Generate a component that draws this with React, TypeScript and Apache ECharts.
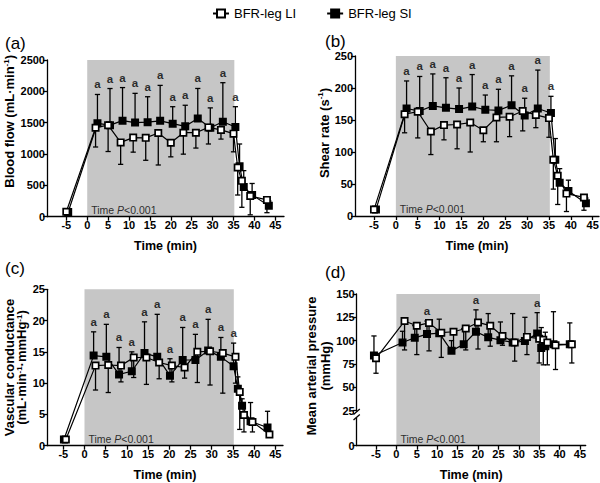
import React, { useEffect, useRef } from 'react';
import * as echarts from 'echarts';

const FONT = "'Liberation Sans', Arial, Helvetica, sans-serif";

// Time points (min) of the measurements
const times = [-5, 2, 5, 8, 11, 14, 17, 20, 23, 26, 29, 32, 35, 36, 37, 39, 43];
const xTicks = [-5, 0, 5, 10, 15, 20, 25, 30, 35, 40, 45];
const shadeRange = [0, 35.2];
const sigTimesABC = [2, 5, 8, 11, 14, 17, 20, 23, 26, 29, 32, 35];
const sigTimesD = [8, 20, 35];

// (a) Blood flow (mL·min-1)
const bfLI = [80, 1420, 1460, 1185, 1262, 1258, 1335, 1180, 1340, 1340, 1425, 1385, 1325, 785, 572, 330, 268];
const bfLILow = [80, 1112, 1040, 835, 1030, 900, 825, 955, 998, 1095, 1160, 1238, 1035, 346, 150, 30, 64];
const bfSI = [75, 1490, 1460, 1532, 1502, 1508, 1530, 1484, 1442, 1568, 1418, 1515, 1430, 805, 475, 348, 175];
const bfSIHigh = [75, 1950, 2045, 2060, 1968, 1914, 2095, 1755, 1778, 2046, 1736, 2138, 1755, 1160, 735, 530, 250];

// (b) Shear rate (s-1)
const srLI = [10, 159, 163, 132, 142, 143, 146, 134, 154, 155, 164, 158, 153, 88, 63, 35, 29];
const srLILow = [10, 130, 122, 96, 119, 105, 100, 116, 116, 124, 133, 138, 123, 42, 18, 7, 9];
const srSI = [10, 168, 164, 172, 169, 167, 171, 166, 165, 173, 157, 168, 161, 88, 52, 39, 20];
const srSIHigh = [10, 211, 218, 222, 216, 200, 221, 189, 198, 219, 184, 228, 187, 121, 74, 56, 28];

// (c) Vascular conductance (mL·min-1·mmHg-1)
const vcLI = [1.0, 12.8, 12.9, 12.8, 14.1, 14.1, 13.3, 12.8, 12.5, 15.0, 15.1, 14.8, 14.2, 8.6, 4.9, 3.8, 1.8];
const vcLILow = [1.0, 8.9, 8.5, 10.2, 10.9, 9.8, 10.7, 10.2, 10.8, 10.1, 9.7, 8.4, 10.0, 2.6, 2.2, 2.2, 1.8];
const vcSI = [1.0, 14.4, 14.2, 11.4, 11.9, 14.8, 14.2, 11.2, 13.7, 13.7, 15.2, 14.2, 12.7, 9.1, 6.4, 3.9, 2.9];
const vcSIHigh = [1.0, 18.2, 19.4, 15.7, 15.0, 19.8, 21.0, 13.9, 18.9, 17.8, 20.2, 17.3, 16.4, 11.0, 7.5, 6.9, 5.5];

// (d) Mean arterial pressure (mmHg)
const mapLI = [81, 121, 116, 119, 108.5, 109.5, 113, 119.5, 116, 105, 98, 104, 102, 101, 98, 95, 96];
const mapLILow = [65, 90, 85, 89, 82, 92, 90, 91, 94, 95, 78, 85, 76, 74, 74, 69, 76];
const mapSI = [84, 98, 103, 107, 108, 89, 96, 109.5, 103.5, 100.5, 98, 99.5, 107.5, 92, 94, 96, 96];
const mapSIHigh = [105, 110, 116, 121, 123, 100, 113, 133, 129, 120, 129, 125, 130, 114, 109, 131, 119];
const mapTicks = [25, 50, 75, 100, 125, 150];

// small horizontal offsets of each group (as plotted in the figure)
const jitterA = [0, 0.45];
const jitterB = [0, 0.45];
const jitterC = [0.6, 0.15];
const jitterD = [0, -0.5];

const AX_COLOR = '#000';

function errSeries(name: string, data: number[][], ax: number) {
  return {
    type: 'custom',
    name,
    xAxisIndex: ax,
    yAxisIndex: ax,
    z: 2,
    silent: true,
    encode: { x: 0, y: [1, 2] },
    data,
    renderItem: (params: any, api: any) => {
      const x = api.value(0);
      const a = api.coord([x, api.value(1)]);
      const b = api.coord([x, api.value(2)]);
      if (Math.abs(a[1] - b[1]) < 0.5) return { type: 'group', children: [] };
      const st = { stroke: '#000', lineWidth: 1.3 };
      return {
        type: 'group',
        children: [
          { type: 'line', shape: { x1: a[0], y1: a[1], x2: b[0], y2: b[1] }, style: st },
          { type: 'line', shape: { x1: b[0] - 2.6, y1: b[1], x2: b[0] + 2.6, y2: b[1] }, style: st },
        ],
      };
    },
  };
}

function lineSeries(name: string, data: number[][], ax: number, fill: string, z: number) {
  return {
    type: 'line',
    name,
    xAxisIndex: ax,
    yAxisIndex: ax,
    z,
    data,
    symbol: 'rect',
    symbolSize: 6.3,
    showSymbol: true,
    showAllSymbol: true,
    itemStyle: { color: fill, borderColor: '#000', borderWidth: 1.7 },
    lineStyle: { color: '#000', width: 1.2 },
    emphasis: { disabled: true },
  };
}

function shadeSeries(ax: number, y0: number, y1: number) {
  return {
    type: 'line',
    name: 'shade' + ax,
    xAxisIndex: ax,
    yAxisIndex: ax,
    z: 0,
    data: [],
    silent: true,
    markArea: {
      silent: true,
      z: 0,
      itemStyle: { color: '#c6c6c6', opacity: 1 },
      label: { show: false },
      data: [[{ xAxis: shadeRange[0], yAxis: y0 }, { xAxis: shadeRange[1], yAxis: y1 }]],
    },
  };
}

// "Time P<0.001" note anchored at the start of the shaded period
function pSeries(ax: number, y0: number) {
  return {
    type: 'scatter',
    name: 'p' + ax,
    xAxisIndex: ax,
    yAxisIndex: ax,
    z: 6,
    silent: true,
    symbolSize: 0,
    data: [[shadeRange[0], y0]],
    label: {
      show: true,
      position: [4, -12.5],
      formatter: '{n|Time }{i|P}{n|<0.001}',
      color: '#000',
      rich: {
        n: { fontSize: 10.5, color: '#000', fontFamily: FONT },
        i: { fontSize: 10.5, color: '#000', fontStyle: 'italic', fontFamily: FONT },
      },
    },
  };
}

function dataSeries(li: number[], liLow: number[], si: number[], siHigh: number[], jit: number[], sig: number[], ax: number) {
  const [jL, jS] = jit;
  const liPts = times.map((t, i) => [t + jL, li[i]]);
  const siPts = times.map((t, i) => [t + jS, si[i]]);
  const liErr = times.map((t, i) => [t + jL, li[i], liLow[i]]);
  const siErr = times.map((t, i) => [t + jS, si[i], siHigh[i]]);
  const sigPts = sig.map((t) => {
    const i = times.indexOf(t);
    return [t + jS, siHigh[i]];
  });
  return [
    errSeries('LI SD', liErr, ax),
    errSeries('SI SD', siErr, ax),
    lineSeries('BFR-leg SI', siPts, ax, '#000', 3),
    lineSeries('BFR-leg LI', liPts, ax, '#fff', 4),
    {
      type: 'scatter',
      name: 'sig' + ax,
      xAxisIndex: ax,
      yAxisIndex: ax,
      data: sigPts,
      symbolSize: 0,
      silent: true,
      z: 5,
      label: {
        show: true,
        position: 'top',
        distance: 4,
        formatter: 'a',
        fontSize: 11.5,
        fontWeight: 'bold',
        color: '#000',
        fontFamily: FONT,
      },
    },
  ];
}

const plain = (v: number) => String(v);

function xAxis(gi: number, min: number, max: number, show = true) {
  return {
    type: 'value',
    gridIndex: gi,
    min,
    max,
    show,
    splitLine: { show: false },
    axisLine: { show: true, onZero: false, lineStyle: { color: AX_COLOR, width: 1.3 } },
    axisTick: { show: true, length: 4, lineStyle: { color: AX_COLOR, width: 1.3 }, customValues: xTicks },
    axisLabel: { customValues: xTicks, formatter: plain, fontSize: 11, fontWeight: 'bold', color: '#000', margin: 3, fontFamily: FONT },
    name: 'Time (min)',
    nameLocation: 'middle',
    nameGap: 23,
    nameTextStyle: { fontSize: 12.5, fontWeight: 'bold', color: '#000', fontFamily: FONT },
  };
}

function nameRich(lh: number) {
  return {
    n: { fontSize: 13, fontWeight: 'bold', color: '#000', lineHeight: lh, fontFamily: FONT },
    s: { fontSize: 8, fontWeight: 'bold', color: '#000', verticalAlign: 'top', fontFamily: FONT },
  };
}

function yAxis(gi: number, min: number, max: number, opts: any) {
  const base: any = {
    type: 'value',
    gridIndex: gi,
    min,
    max,
    splitLine: { show: false },
    axisLine: { show: true, onZero: false, lineStyle: { color: AX_COLOR, width: 1.3 } },
    axisTick: { show: true, length: 4, lineStyle: { color: AX_COLOR, width: 1.3 } },
    axisLabel: { formatter: plain, fontSize: 11, fontWeight: 'bold', color: '#000', margin: 2, fontFamily: FONT },
    nameLocation: 'middle',
    nameRotate: 90,
  };
  if (opts.interval) base.interval = opts.interval;
  if (opts.ticks) {
    base.axisTick.customValues = opts.ticks;
    base.axisLabel.customValues = opts.ticks;
  }
  if (opts.name) {
    base.name = opts.name;
    base.nameGap = opts.nameGap;
    base.nameTextStyle = {
      fontSize: 13,
      fontWeight: 'bold',
      color: '#000',
      padding: opts.padding || 0,
      rich: nameRich(opts.lineHeight || 15),
      fontFamily: FONT,
    };
  }
  return base;
}

export default function App() {
  const ref = useRef<HTMLDivElement>(null);
  useEffect(() => {
    document.body.style.margin = '0';
    if (!ref.current) return;
    const chart = echarts.init(ref.current, undefined, { renderer: 'svg' });
    const dUpperMin = 20.2;
    const option: any = {
      animation: false,
      textStyle: { fontFamily: FONT },
      legend: {
        data: ['BFR-leg LI', 'BFR-leg SI'],
        left: 207,
        top: 2,
        itemWidth: 16,
        itemHeight: 10,
        itemGap: 30,
        selectedMode: false,
        textStyle: { fontSize: 13, color: '#000', fontFamily: FONT },
      },
      grid: [
        { left: 47, right: 316, top: 60, bottom: 266.3, outerBoundsMode: 'none' },
        { left: 355, right: 1, top: 56, bottom: 267, outerBoundsMode: 'none' },
        { left: 47, right: 317, top: 289.3, bottom: 37.3, outerBoundsMode: 'none' },
        { left: 356.7, right: 14.3, top: 294, bottom: 68, outerBoundsMode: 'none' },
        { left: 356.7, right: 14.3, top: 415, bottom: 37.3, outerBoundsMode: 'none' },
      ],
      xAxis: [
        xAxis(0, -9.62, 47.08),
        xAxis(1, -9.34, 46.44),
        xAxis(2, -8.84, 46.8),
        xAxis(3, -9.73, 46.4, false),
        xAxis(4, -9.73, 46.4),
      ],
      yAxis: [
        yAxis(0, 0, 2500, { interval: 500, name: '{n|Blood flow (mL·min}{s|-1}{n|)}', nameGap: 30, padding: [0, 0, 0, 34] }),
        yAxis(1, 0, 250, { interval: 50, name: '{n|Shear rate (s}{s|-1}{n|)}', nameGap: 22, padding: [0, 0, 0, 6] }),
        yAxis(2, 0, 25, { interval: 5, name: '{n|Vascular conductance}\n{n|(mL·min}{s|-1}{n|·mmHg}{s|-1}{n|)}', nameGap: 19, lineHeight: 12.5 }),
        yAxis(3, dUpperMin, 150, { ticks: mapTicks, name: '{n|Mean arterial pressure}\n{n|(mmHg)}', nameGap: 24, lineHeight: 14, padding: [0, 23, 0, 0] }),
        yAxis(4, 0, 10, { ticks: [0] }),
      ],
      series: [
        shadeSeries(0, 0, 2500),
        shadeSeries(1, 0, 250),
        shadeSeries(2, 0, 25),
        shadeSeries(3, dUpperMin, 150),
        shadeSeries(4, 0, 10),
        pSeries(0, 0),
        pSeries(1, 0),
        pSeries(2, 0),
        pSeries(4, 0),
        ...dataSeries(bfLI, bfLILow, bfSI, bfSIHigh, jitterA, sigTimesABC, 0),
        ...dataSeries(srLI, srLILow, srSI, srSIHigh, jitterB, sigTimesABC, 1),
        ...dataSeries(vcLI, vcLILow, vcSI, vcSIHigh, jitterC, sigTimesABC, 2),
        ...dataSeries(mapLI, mapLILow, mapSI, mapSIHigh, jitterD, sigTimesD, 3),
      ],
      graphic: [
        { type: 'text', x: 5, y: 43, z: 100, style: { text: '(a)', fontSize: 17, fill: '#000', verticalAlign: 'middle', fontFamily: FONT } },
        { type: 'text', x: 325, y: 41, z: 100, style: { text: '(b)', fontSize: 17, fill: '#000', verticalAlign: 'middle', fontFamily: FONT } },
        { type: 'text', x: 5, y: 268, z: 100, style: { text: '(c)', fontSize: 17, fill: '#000', verticalAlign: 'middle', fontFamily: FONT } },
        { type: 'text', x: 325, y: 272, z: 100, style: { text: '(d)', fontSize: 17, fill: '#000', verticalAlign: 'middle', fontFamily: FONT } },
        { type: 'rect', z: 100, shape: { x: 354, y: 411.5, width: 5.5, height: 6 }, style: { fill: '#fff' } },
        { type: 'line', z: 101, shape: { x1: 353.5, y1: 414.5, x2: 359.8, y2: 409 }, style: { stroke: '#000', lineWidth: 1.3 } },
        { type: 'line', z: 101, shape: { x1: 353.5, y1: 420, x2: 359.8, y2: 414.5 }, style: { stroke: '#000', lineWidth: 1.3 } },
      ],
    };
    chart.setOption(option);
    return () => chart.dispose();
  }, []);
  return <div ref={ref} style={{ width: 600, height: 483 }} />;
}
